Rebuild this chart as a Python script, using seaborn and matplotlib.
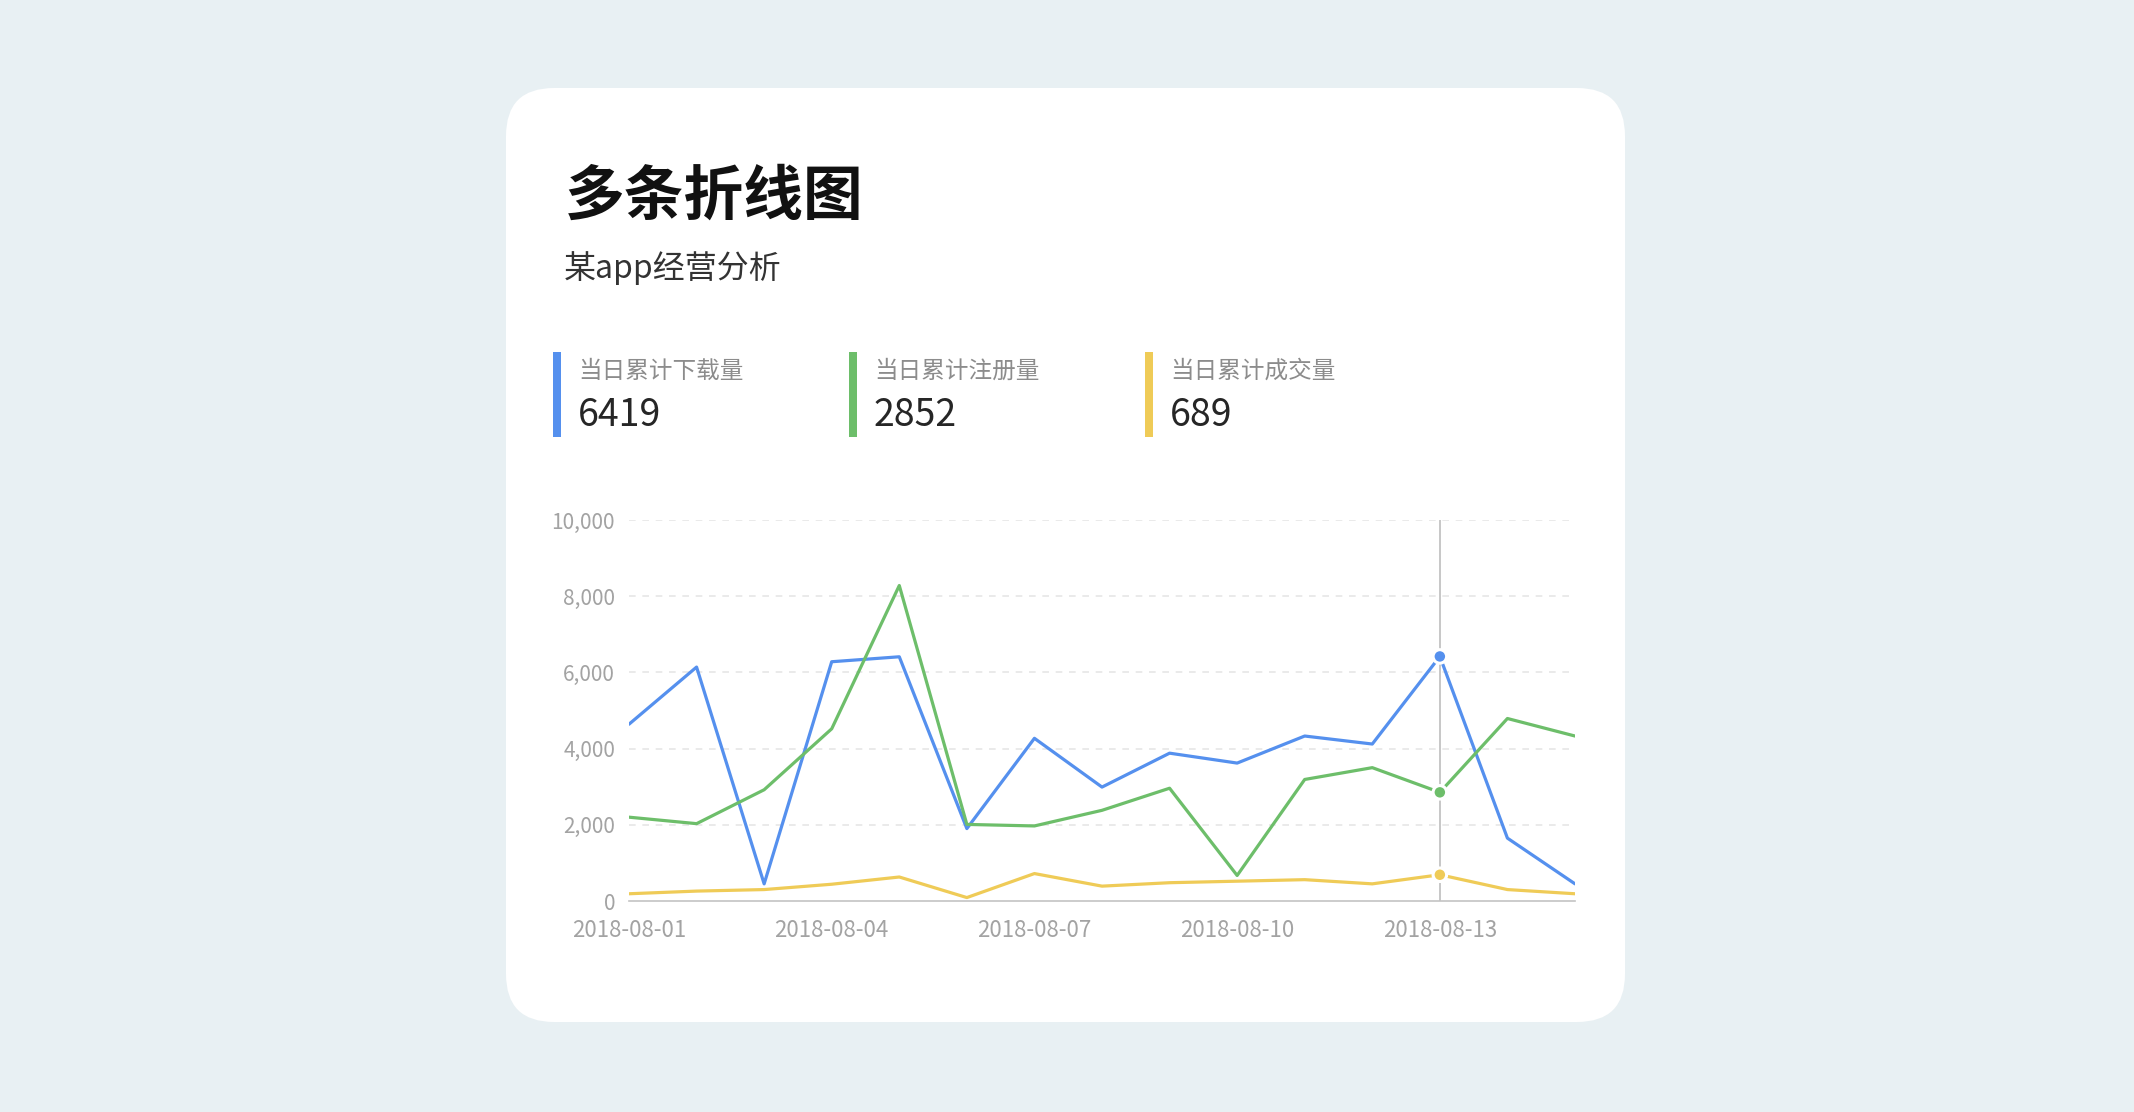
import pandas as pd
import matplotlib.pyplot as plt
import matplotlib.dates as mdates
from matplotlib.patches import FancyBboxPatch, Rectangle
from matplotlib.ticker import FuncFormatter
import seaborn as sns

dates = ['2018-08-01', '2018-08-02', '2018-08-03', '2018-08-04', '2018-08-05',
         '2018-08-06', '2018-08-07', '2018-08-08', '2018-08-09', '2018-08-10',
         '2018-08-11', '2018-08-12', '2018-08-13', '2018-08-14', '2018-08-15']
downloads = [4640, 6140, 450, 6280, 6410, 1900, 4270, 2990, 3880, 3620, 4330, 4120, 6419, 1650, 450]
registers = [2200, 2030, 2920, 4520, 8280, 2010, 1970, 2380, 2960, 670, 3190, 3500, 2852, 4790, 4330]
deals = [190, 260, 300, 440, 630, 90, 720, 390, 480, 520, 560, 450, 689, 300, 190]
series_names = ['当日累计下载量', '当日累计注册量', '当日累计成交量']
colors = ['#5590EE', '#6DBE6A', '#EFCB57']
title = '多条折线图'
subtitle = '某app经营分析'
tick_dates = ['2018-08-01', '2018-08-04', '2018-08-07', '2018-08-10', '2018-08-13']
y_ticks = [0, 2000, 4000, 6000, 8000, 10000]
focus_date = '2018-08-13'

sns.set_style('white')
plt.rcParams['font.family'] = ['Noto Sans CJK SC', 'DejaVu Sans']

df = pd.DataFrame({
    'date': pd.to_datetime(dates * 3),
    'value': downloads + registers + deals,
    'series': [n for n in series_names for _ in dates],
})

W, H = 2134, 1112
fig = plt.figure(figsize=(W / 100, H / 100), dpi=100)
fig.patch.set_facecolor('#E8F0F3')

# background card, drawn in pixel coordinates
bg = fig.add_axes([0, 0, 1, 1])
bg.set_xlim(0, W)
bg.set_ylim(H, 0)
bg.axis('off')
bg.add_patch(FancyBboxPatch((506, 88), 1119, 934, boxstyle='round,pad=0,rounding_size=48',
                            facecolor='white', edgecolor='none'))
bg.text(565, 198, title, fontsize=43, fontweight='bold', color='#111111', va='center')
bg.text(564, 268, subtitle, fontsize=23, color='#333333', va='center')

focus_idx = dates.index(focus_date)
values_at_focus = [downloads[focus_idx], registers[focus_idx], deals[focus_idx]]
for i, (name, col, val) in enumerate(zip(series_names, colors, values_at_focus)):
    x0 = 553 + i * 296
    bg.add_patch(Rectangle((x0, 352), 8, 85, facecolor=col, edgecolor='none'))
    bg.text(x0 + 25, 371, name, fontsize=17, color='#8c8c8c', va='center')
    bg.text(x0 + 25, 416, str(val), fontsize=27, color='#262626', va='center')

# line chart
ax = fig.add_axes([629 / W, 1 - 901 / H, (1575 - 629) / W, (901 - 520) / H])
ax.set_facecolor('none')
sns.lineplot(data=df, x='date', y='value', hue='series', palette=colors,
             linewidth=2.3, legend=False, ax=ax)

fd = pd.to_datetime(focus_date)
ax.axvline(fd, color='#bdbdbd', lw=1.2, zorder=1)
ax.scatter([fd] * 3, values_at_focus, s=95, c=colors, edgecolors='white',
           linewidths=2.2, zorder=5)

ax.set_xlim(pd.to_datetime(dates[0]), pd.to_datetime(dates[-1]))
ax.set_ylim(0, 10000)
ax.set_yticks(y_ticks)
ax.yaxis.set_major_formatter(FuncFormatter(lambda v, p: f'{int(v):,}'))
ax.set_xticks(pd.to_datetime(tick_dates))
ax.xaxis.set_major_formatter(mdates.DateFormatter('%Y-%m-%d'))
ax.set_xlabel('')
ax.set_ylabel('')

for y in y_ticks[1:]:
    ax.axhline(y, color='#e6e6e6', lw=1.2, ls=(0, (4, 4)), zorder=0)

for s in ['left', 'top', 'right']:
    ax.spines[s].set_visible(False)
ax.spines['bottom'].set_color('#c4c4c4')
ax.spines['bottom'].set_linewidth(1.2)

ax.tick_params(axis='y', length=0, pad=10, labelsize=15, labelcolor='#a3a3a3')
ax.tick_params(axis='x', length=5, width=1.2, color='#c4c4c4', pad=8,
               labelsize=16, labelcolor='#a3a3a3')

fig.savefig('out.png', dpi=100, facecolor=fig.get_facecolor())
